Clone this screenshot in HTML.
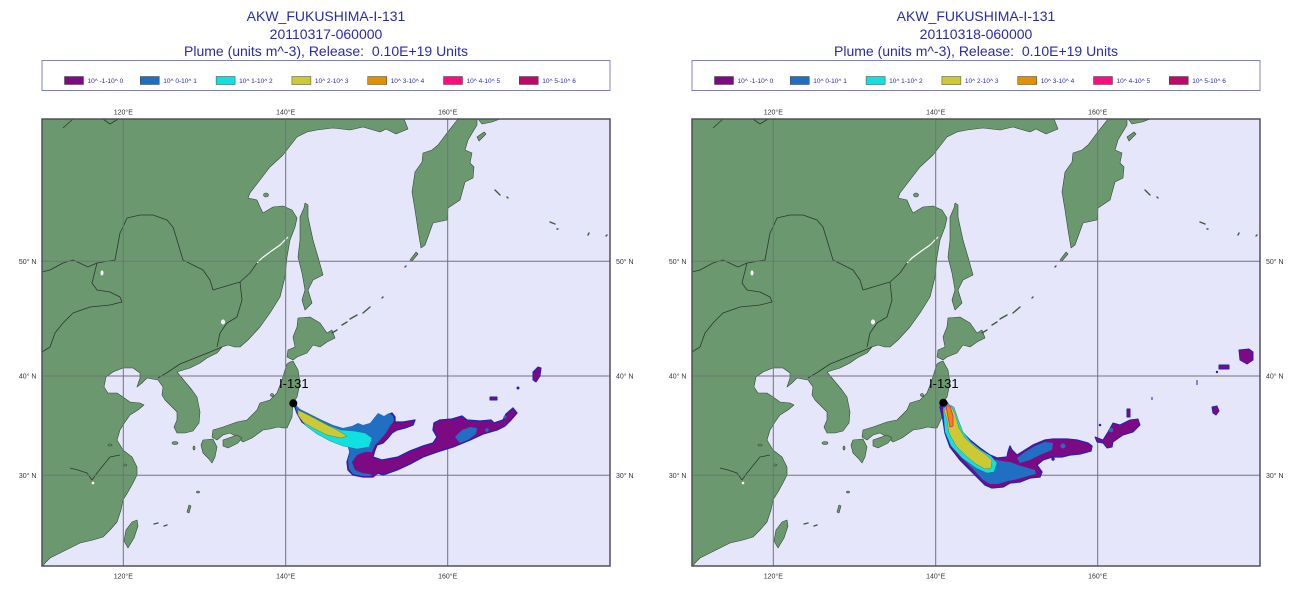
<!DOCTYPE html>
<html><head><meta charset="utf-8"><style>
html,body{margin:0;padding:0;background:#fff;}
svg{display:block;}
text{font-family:"Liberation Sans",Arial,sans-serif;}
</style></head><body>
<svg width="1300" height="596" viewBox="0 0 1300 596" xmlns="http://www.w3.org/2000/svg">
<rect width="1300" height="596" fill="#fff"/>
<defs>
<g id="base">
  <rect x="42" y="119" width="568" height="447" fill="#E6E6FA"/>
  <g fill="#6B986F" stroke="#34463a" stroke-width="0.6" stroke-linejoin="round">
    <path d="M42,119 L404,119 408,129 396,134 386,129 380,132 363,127 350,130 333,128 317,130 307,132 297,137 283,155 270,167 260,180 250,193 248,198 257,200 260,207 263,213 268,210 273,207 283,206 292,210 297,218 295,227 290,240 287,257 285,277 280,297 270,313 260,327 248,340 240,347 235,347 228,345 222,347 217,353 207,358 200,363 190,368 180,371 177,372 182,378 187,384 192,390 197,397 200,412 199,423 193,431 185,433 177,433 174,427 177,420 177,412 170,405 165,400 162,395 163,387 158,380 147,378 142,383 137,387 140,378 140,373 133,368 123,368 113,372 106,377 104,387 108,393 117,393 123,397 130,402 140,403 144,405 138,410 130,415 125,422 120,430 117,440 123,450 132,457 137,467 137,475 133,483 128,492 123,500 121,510 117,522 110,530 103,537 93,540 80,543 70,548 60,553 50,558 45,563 43,566 42,566 Z"/>
    <path d="M458,119 L447,133 438,145 432,150 423,153 422,162 415,172 412,192 415,210 418,230 421,248 425,245 433,223 447,220 448,208 460,200 465,182 473,178 474,167 470,163 472,153 465,150 468,140 477,125 477,119 Z"/>
    <path d="M477,137 L484,132 486,134 479,141 Z"/>
    <path d="M478,119 L500,119 492,122 482,124 Z"/>
    <path d="M305,203 L308,205 308,217 313,240 318,257 323,275 313,280 308,290 312,303 305,310 302,300 305,290 302,273 298,257 300,240 300,217 304,208 Z"/>
    <path d="M298,318 L310,317 320,323 327,333 332,330 335,338 327,342 320,347 313,345 307,353 297,357 293,360 287,357 288,350 295,347 293,337 297,327 Z"/>
    <path d="M290,362 L293,361 298,370 300,383 297,397 293,403 292,417 287,428 283,428 278,427 270,429 263,430 252,438 243,442 237,437 230,433 223,435 217,440 212,437 213,430 223,427 237,422 247,420 257,410 260,403 270,400 277,393 282,380 285,370 287,364 Z"/>
    <path d="M203,440 L213,439 217,447 215,457 212,463 208,458 203,453 201,445 Z"/>
    <path d="M223,440 L237,435 242,438 238,443 228,448 223,446 Z"/>
    <path d="M137,520 L138,526 134,538 128,548 124,541 126,530 132,522 Z"/>
    <ellipse cx="266" cy="195" rx="2.5" ry="2"/>
    <ellipse cx="272" cy="395" rx="1.5" ry="1.5"/>
    <ellipse cx="175" cy="443" rx="3" ry="1.5"/>
    <ellipse cx="194" cy="448" rx="1" ry="2"/>
    <ellipse cx="198" cy="492" rx="1.5" ry="1"/>
    <path d="M187,512 L189,505 191,506 189,513 Z"/>
    <path d="M410,260 L416,252 418,254 412,261 Z"/>
    <ellipse cx="110" cy="445" rx="2" ry="1"/>
    <ellipse cx="125" cy="465" rx="1.5" ry="1"/>
  </g>
  <g stroke="#3e5a42" stroke-width="1.4" stroke-linecap="round" fill="none">
    <path d="M332,333 L337,330 M342,325 L347,322 M350,319 L357,315 M363,313 L370,307 M382,298 L383,297 M405,267 L406,266 M495,190 L500,195 M507,197 L508,198 M550,222 L555,224 M557,229 L558,229 M588,235 L589,233 M606,236 L607,235 M154,524 L158,523 M164,526 L167,525"/>
  </g>
  <g stroke="#ffffff" fill="#ffffff">
    <path d="M257,263 L262,258 270,252 280,245 288,237" stroke-width="1.2" fill="none"/>
    <ellipse cx="102" cy="273" rx="1.5" ry="2.5" stroke="none"/>
    <ellipse cx="223" cy="322" rx="2" ry="2.5" stroke="none"/>
    <ellipse cx="93" cy="483" rx="1.3" ry="1.3" stroke="none"/>
  </g>
  <g stroke="#2a3a2e" stroke-width="0.8" fill="none" stroke-linejoin="round">
    <path d="M42,272 L50,270 63,263 73,260 88,267 97,263 115,260 120,233 123,227 127,218 140,215 153,215 167,220 173,227 177,240 183,260 193,265 203,270 210,280 213,290 223,287 240,282 250,273 257,263"/>
    <path d="M240,282 L242,300 237,317 227,323 220,333 217,347"/>
    <path d="M97,263 L92,283 97,290 110,292 120,297 122,302 110,305 90,307 73,313 63,323 55,333 50,347 42,352"/>
    <path d="M63,128 L73,119 M103,119 L110,124 118,119"/>
    <path d="M222,347 L210,352 195,358 180,364 168,372 158,378"/>
    <path d="M70,468 L78,470 87,473 92,480 97,473 110,457 120,455"/>
  </g>
  <g stroke="#72727e" stroke-width="1" fill="none">
    <path d="M123.3,119 V566 M285.7,119 V566 M447.7,119 V566 M42,261.3 H610 M42,376 H610 M42,475.3 H610"/>
  </g>
</g>
</defs>

<use href="#base"/>
<use href="#base" transform="translate(650,0)"/>

<!-- LEFT PLUME -->
<g stroke-linejoin="round">
  <path fill="#7d0a82" stroke="#2323b4" stroke-width="1.3" d="M293,402 L297,408 303,412 313,417 323,422 333,427 343,430 353,428 358,425 362,427 370,425 375,420 378,415 383,418 388,415 392,413 395,417 395,422 403,422 415,420 413,425 405,428 397,430 392,433 388,438 383,443 377,445 375,450 373,457 382,460 398,457 410,451 423,446 433,443 437,437 433,430 434,423 440,420 452,419 462,416 467,420 480,421 491,420 494,423 503,420 506,414 513,408 517,413 511,420 505,426 497,430 483,434 470,440 453,447 437,452 423,457 410,464 397,470 383,475 378,473 373,477 363,477 353,475 348,470 347,462 350,452 348,445 337,442 323,435 310,428 302,422 297,413 Z"/>
  <path fill="#1f6fc2" d="M295,404 L300,409 310,414 322,420 333,425 343,428 352,426 358,423 363,425 370,423 374,418 378,413 384,416 389,413 393,416 394,421 390,426 386,433 380,440 375,445 372,452 365,452 357,455 352,462 355,470 362,473 370,474 372,476 362,476 353,474 349,469 348,460 350,452 348,446 338,441 323,434 310,427 302,421 297,413 Z"/>
  <path fill="#1f6fc2" d="M455,437 L462,430 470,427 477,428 476,434 468,440 460,443 Z"/>
  <circle cx="487" cy="430" r="1.8" fill="#1f6fc2"/>
  <circle cx="505" cy="417" r="1.5" fill="#1f6fc2"/>
  <path fill="#0fe0e0" stroke="#2a6a8a" stroke-width="0.4" d="M301,411 L315,418 328,425 341,430 354,431 365,433 372,438 369,447 357,449 343,446 330,441 317,434 306,426 299,417 Z"/>
  <path fill="#cdc935" stroke="#6a6a20" stroke-width="0.4" d="M298,410 L310,416 323,423 337,430 347,436 341,438 327,435 313,428 303,422 298,415 Z"/>
  <g fill="#7d0a82" stroke="#2323b4" stroke-width="1">
    <path d="M490,397 L497,397 497,400 490,400 Z"/>
    <circle cx="518" cy="388" r="1"/>
    <path d="M533,372 L538,367 541,368 540,376 536,382 533,380 Z"/>
  </g>
</g>

<!-- RIGHT PLUME -->
<g stroke-linejoin="round">
  <path fill="#7d0a82" stroke="#2323b4" stroke-width="1.3" d="M942,402 L947,402 950,408 953,418 960,430 970,440 980,448 990,455 997,458 1007,457 1008,452 1010,446 1012,450 1017,455 1025,450 1033,445 1045,440 1053,439 1067,439 1077,440 1088,443 1092,446 1091,451 1080,454 1070,455 1062,457 1052,457 1043,460 1037,465 1042,472 1040,477 1030,478 1020,482 1010,483 1003,487 992,488 985,485 978,478 970,470 960,460 950,447 945,433 943,420 940,407 Z"/>
  <path fill="#1f6fc2" d="M943,404 L947,405 951,412 955,425 962,436 972,445 982,452 992,459 1002,461 1010,462 1018,465 1028,468 1035,470 1036,474 1028,476 1018,479 1008,481 998,484 990,484 982,479 973,469 963,459 953,447 947,434 945,421 943,410 Z"/>
  <path fill="#1f6fc2" d="M1017,458 L1025,452 1035,446 1045,442 1053,443 1052,450 1040,455 1030,460 1020,463 Z"/>
  <circle cx="1063" cy="446" r="2.5" fill="#1f6fc2"/>
  <path fill="#0fe0e0" stroke="#2a6a8a" stroke-width="0.4" d="M943,409 L945,432 951,446 962,458 976,468 987,473 994,472 997,463 991,456 981,450 971,442 963,432 958,419 954,407 948,404 Z"/>
  <path fill="#cdc935" stroke="#6a6a20" stroke-width="0.4" d="M944,410 L947,420 949,433 956,446 966,456 976,464 985,469 991,468 992,460 985,454 975,447 965,438 959,428 955,414 951,406 Z"/>
  <path fill="#e09000" stroke="#ff1090" stroke-width="0.8" d="M946,406 L950,406 953,416 953,426 950,427 948,417 Z"/>
  <g fill="#7d0a82" stroke="#2323b4" stroke-width="1">
    <path d="M1095,437 L1103,440 1108,432 1113,423 1120,425 1130,420 1138,419 1140,425 1133,432 1123,435 1113,442 1112,447 1107,448 1103,443 1097,442 Z"/>
    <path d="M1127,409 L1130,409 1130,417 1127,417 Z"/>
    <circle cx="1100" cy="425" r="0.8"/>
    <circle cx="1053" cy="459" r="1.2"/>
    <path d="M1239,350 L1249,349 1253,352 1253,360 1247,364 1240,360 Z"/>
    <path d="M1219,365 L1229,365 1229,369 1219,369 Z"/>
    <circle cx="1217" cy="372" r="0.7"/>
    <path d="M1197,380 L1197,385"/>
    <path d="M1152,397 L1152,400"/>
    <path d="M1212,407 L1217,406 1219,411 1216,415 1213,413 Z"/>
  </g>
  <circle cx="1111" cy="430" r="2.3" fill="#1f6fc2"/>
</g>

<circle cx="293.3" cy="403.3" r="4" fill="#000"/>
<circle cx="943.3" cy="402.7" r="4" fill="#000"/>
<text x="279" y="388" font-size="13" fill="#000">I-131</text>
<text x="929" y="388" font-size="13" fill="#000">I-131</text>

<rect x="42" y="119" width="568" height="447" fill="none" stroke="#505058" stroke-width="1.5"/>
<rect x="692" y="119" width="568" height="447" fill="none" stroke="#505058" stroke-width="1.5"/>

<g fill="#2a2ab0" font-size="14" text-anchor="middle">
  <text x="326" y="21">AKW_FUKUSHIMA-I-131</text>
  <text x="326" y="39">20110317-060000</text>
  <text x="326" y="56">Plume (units m^-3), Release:&#160; 0.10E+19 Units</text>
  <text x="976" y="21">AKW_FUKUSHIMA-I-131</text>
  <text x="976" y="39">20110318-060000</text>
  <text x="976" y="56">Plume (units m^-3), Release:&#160; 0.10E+19 Units</text>
</g>

<rect x="42" y="60.5" width="568" height="30" fill="#fff" stroke="#8080c8" stroke-width="1"/>
<rect x="692" y="60.5" width="568" height="30" fill="#fff" stroke="#8080c8" stroke-width="1"/>
<g stroke="#404040" stroke-width="0.5">
  <rect x="64.5" y="76.5" width="19" height="8" fill="#7d0a82"/>
  <rect x="140.3" y="76.5" width="19" height="8" fill="#1f6fc2"/>
  <rect x="216.1" y="76.5" width="19" height="8" fill="#10e0e0"/>
  <rect x="291.9" y="76.5" width="19" height="8" fill="#cdc935"/>
  <rect x="367.7" y="76.5" width="19" height="8" fill="#e09000"/>
  <rect x="443.5" y="76.5" width="19" height="8" fill="#ff0a80"/>
  <rect x="519.3" y="76.5" width="19" height="8" fill="#c0086a"/>
  <rect x="714.5" y="76.5" width="19" height="8" fill="#7d0a82"/>
  <rect x="790.3" y="76.5" width="19" height="8" fill="#1f6fc2"/>
  <rect x="866.1" y="76.5" width="19" height="8" fill="#10e0e0"/>
  <rect x="941.9" y="76.5" width="19" height="8" fill="#cdc935"/>
  <rect x="1017.7" y="76.5" width="19" height="8" fill="#e09000"/>
  <rect x="1093.5" y="76.5" width="19" height="8" fill="#ff0a80"/>
  <rect x="1169.3" y="76.5" width="19" height="8" fill="#c0086a"/>
</g>
<g fill="#2a2ab0" font-size="6.5">
  <text x="87.5" y="83">10^ -1-10^ 0</text>
  <text x="163.3" y="83">10^ 0-10^ 1</text>
  <text x="239.1" y="83">10^ 1-10^ 2</text>
  <text x="314.9" y="83">10^ 2-10^ 3</text>
  <text x="390.7" y="83">10^ 3-10^ 4</text>
  <text x="466.5" y="83">10^ 4-10^ 5</text>
  <text x="542.3" y="83">10^ 5-10^ 6</text>
  <text x="737.5" y="83">10^ -1-10^ 0</text>
  <text x="813.3" y="83">10^ 0-10^ 1</text>
  <text x="889.1" y="83">10^ 1-10^ 2</text>
  <text x="964.9" y="83">10^ 2-10^ 3</text>
  <text x="1040.7" y="83">10^ 3-10^ 4</text>
  <text x="1116.5" y="83">10^ 4-10^ 5</text>
  <text x="1192.3" y="83">10^ 5-10^ 6</text>
</g>

<g fill="#333" font-size="7" text-anchor="middle">
  <text x="123.3" y="114.5">120°E</text>
  <text x="285.7" y="114.5">140°E</text>
  <text x="447.7" y="114.5">160°E</text>
  <text x="123.3" y="578.5">120°E</text>
  <text x="285.7" y="578.5">140°E</text>
  <text x="447.7" y="578.5">160°E</text>
  <text x="773.3" y="114.5">120°E</text>
  <text x="935.7" y="114.5">140°E</text>
  <text x="1097.7" y="114.5">160°E</text>
  <text x="773.3" y="578.5">120°E</text>
  <text x="935.7" y="578.5">140°E</text>
  <text x="1097.7" y="578.5">160°E</text>
</g>
<g fill="#333" font-size="7" text-anchor="end">
  <text x="36.5" y="263.8">50° N</text>
  <text x="36.5" y="378.5">40° N</text>
  <text x="36.5" y="477.8">30° N</text>
  <text x="686.5" y="263.8">50° N</text>
  <text x="686.5" y="378.5">40° N</text>
  <text x="686.5" y="477.8">30° N</text>
</g>
<g fill="#333" font-size="7">
  <text x="616" y="263.8">50° N</text>
  <text x="616" y="378.5">40° N</text>
  <text x="616" y="477.8">30° N</text>
  <text x="1266" y="263.8">50° N</text>
  <text x="1266" y="378.5">40° N</text>
  <text x="1266" y="477.8">30° N</text>
</g>
</svg>
</body></html>
